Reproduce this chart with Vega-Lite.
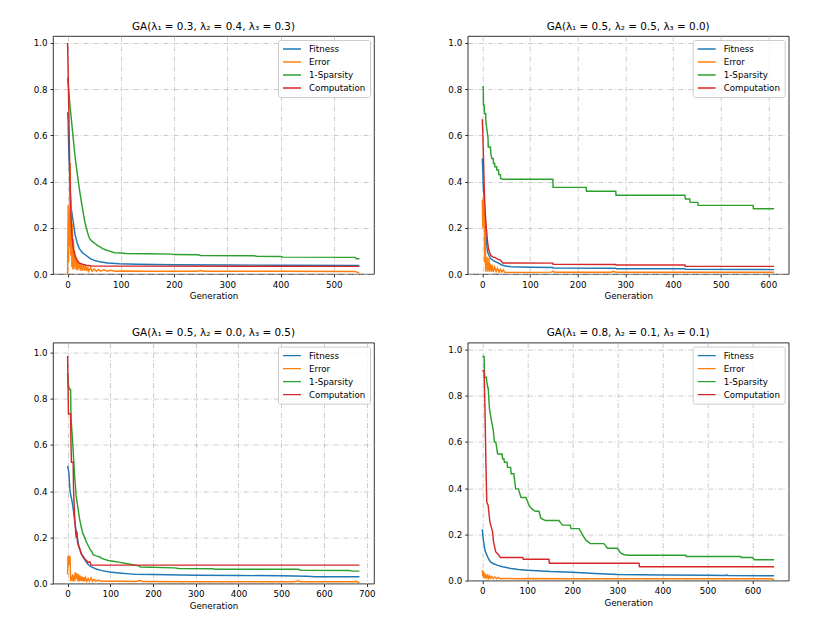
{
"$schema":"https://vega.github.io/schema/vega-lite/v6.json",
"padding":{"left":32,"top":21,"right":5,"bottom":5},
"config":{
"font":"DejaVu Sans",
"view":{"stroke":"#000","strokeWidth":0.8},
"axis":{"labelFontSize":8.7,"labelColor":"#000","tickColor":"#000","tickSize":3,"tickWidth":0.8,"labelPadding":3,"domain":false,"grid":true,"gridColor":"#b8b8b8","gridDash":[5,2,1,2],"gridWidth":0.7,"titleFontSize":8.7,"titleFontWeight":"normal","titleColor":"#000","titlePadding":3},
"title":{"fontSize":10.4,"fontWeight":"normal","offset":4,"color":"#000"},
"legend":{"orient":"top-right","offset":4,"labelFontSize":8.7,"labelColor":"#000","symbolType":"stroke","symbolSize":324,"symbolStrokeWidth":1.5,"labelOffset":7,"padding":4,"rowPadding":3.0,"clipHeight":10,"fillColor":"rgba(255,255,255,0.8)","strokeColor":"#cccccc","cornerRadius":2},
"line":{"strokeWidth":1.45}
},
"datasets":{
"tl":[
{"s":"Fitness","g":0,"v":0.70},{"s":"Fitness","g":1,"v":0.66},{"s":"Fitness","g":2,"v":0.55},{"s":"Fitness","g":4,"v":0.42},{"s":"Fitness","g":6,"v":0.31},{"s":"Fitness","g":7,"v":0.28},{"s":"Fitness","g":9,"v":0.25},{"s":"Fitness","g":11,"v":0.22},{"s":"Fitness","g":14,"v":0.17},{"s":"Fitness","g":18,"v":0.135},{"s":"Fitness","g":22,"v":0.11},{"s":"Fitness","g":28,"v":0.092},{"s":"Fitness","g":35,"v":0.08},{"s":"Fitness","g":42,"v":0.068},{"s":"Fitness","g":50,"v":0.059},{"s":"Fitness","g":60,"v":0.053},{"s":"Fitness","g":75,"v":0.048},{"s":"Fitness","g":97,"v":0.044},{"s":"Fitness","g":130,"v":0.042},{"s":"Fitness","g":200,"v":0.04},{"s":"Fitness","g":300,"v":0.039},{"s":"Fitness","g":400,"v":0.038},{"s":"Fitness","g":548,"v":0.037},
{"s":"Error","g":0,"v":0.0},{"s":"Error","g":1,"v":0.30},{"s":"Error","g":2,"v":0.05},{"s":"Error","g":3,"v":0.27},{"s":"Error","g":4,"v":0.12},{"s":"Error","g":5,"v":0.48},{"s":"Error","g":6,"v":0.08},{"s":"Error","g":7,"v":0.30},{"s":"Error","g":8,"v":0.03},{"s":"Error","g":9,"v":0.22},{"s":"Error","g":10,"v":0.02},{"s":"Error","g":11,"v":0.15},{"s":"Error","g":12,"v":0.02},{"s":"Error","g":13,"v":0.10},{"s":"Error","g":14,"v":0.03},{"s":"Error","g":15,"v":0.08},{"s":"Error","g":16,"v":0.02},{"s":"Error","g":17,"v":0.07},{"s":"Error","g":18,"v":0.015},{"s":"Error","g":19,"v":0.06},{"s":"Error","g":20,"v":0.02},{"s":"Error","g":22,"v":0.05},{"s":"Error","g":24,"v":0.015},{"s":"Error","g":26,"v":0.045},{"s":"Error","g":28,"v":0.015},{"s":"Error","g":30,"v":0.04},{"s":"Error","g":32,"v":0.015},{"s":"Error","g":34,"v":0.035},{"s":"Error","g":36,"v":0.012},{"s":"Error","g":38,"v":0.03},{"s":"Error","g":40,"v":0.012},{"s":"Error","g":43,"v":0.028},{"s":"Error","g":46,"v":0.012},{"s":"Error","g":50,"v":0.022},{"s":"Error","g":54,"v":0.012},{"s":"Error","g":58,"v":0.02},{"s":"Error","g":62,"v":0.012},{"s":"Error","g":68,"v":0.018},{"s":"Error","g":75,"v":0.012},{"s":"Error","g":80,"v":0.016},{"s":"Error","g":90,"v":0.012},{"s":"Error","g":100,"v":0.013},{"s":"Error","g":150,"v":0.012},{"s":"Error","g":245,"v":0.012},{"s":"Error","g":250,"v":0.015},{"s":"Error","g":255,"v":0.012},{"s":"Error","g":400,"v":0.012},{"s":"Error","g":540,"v":0.011},{"s":"Error","g":545,"v":0.006},{"s":"Error","g":548,"v":0.006},
{"s":"1-Sparsity","g":0,"v":0.85},{"s":"1-Sparsity","g":2,"v":0.80},{"s":"1-Sparsity","g":4,"v":0.74},{"s":"1-Sparsity","g":7,"v":0.67},{"s":"1-Sparsity","g":10,"v":0.60},{"s":"1-Sparsity","g":13,"v":0.53},{"s":"1-Sparsity","g":16,"v":0.47},{"s":"1-Sparsity","g":19,"v":0.42},{"s":"1-Sparsity","g":22,"v":0.37},{"s":"1-Sparsity","g":26,"v":0.31},{"s":"1-Sparsity","g":29,"v":0.27},{"s":"1-Sparsity","g":32,"v":0.23},{"s":"1-Sparsity","g":35,"v":0.2},{"s":"1-Sparsity","g":38,"v":0.175},{"s":"1-Sparsity","g":41,"v":0.155},{"s":"1-Sparsity","g":45,"v":0.143},{"s":"1-Sparsity","g":50,"v":0.135},{"s":"1-Sparsity","g":55,"v":0.125},{"s":"1-Sparsity","g":60,"v":0.118},{"s":"1-Sparsity","g":66,"v":0.11},{"s":"1-Sparsity","g":72,"v":0.104},{"s":"1-Sparsity","g":80,"v":0.098},{"s":"1-Sparsity","g":88,"v":0.092},{"s":"1-Sparsity","g":100,"v":0.091},{"s":"1-Sparsity","g":110,"v":0.089},{"s":"1-Sparsity","g":150,"v":0.088},{"s":"1-Sparsity","g":195,"v":0.086},{"s":"1-Sparsity","g":200,"v":0.084},{"s":"1-Sparsity","g":245,"v":0.083},{"s":"1-Sparsity","g":250,"v":0.080},{"s":"1-Sparsity","g":350,"v":0.079},{"s":"1-Sparsity","g":355,"v":0.077},{"s":"1-Sparsity","g":400,"v":0.076},{"s":"1-Sparsity","g":405,"v":0.073},{"s":"1-Sparsity","g":540,"v":0.072},{"s":"1-Sparsity","g":542,"v":0.066},{"s":"1-Sparsity","g":548,"v":0.066},
{"s":"Computation","g":0,"v":1.0},{"s":"Computation","g":1,"v":0.88},{"s":"Computation","g":2,"v":0.75},{"s":"Computation","g":3,"v":0.6},{"s":"Computation","g":4,"v":0.46},{"s":"Computation","g":5,"v":0.36},{"s":"Computation","g":6,"v":0.27},{"s":"Computation","g":7,"v":0.21},{"s":"Computation","g":8,"v":0.17},{"s":"Computation","g":10,"v":0.12},{"s":"Computation","g":12,"v":0.095},{"s":"Computation","g":14,"v":0.08},{"s":"Computation","g":16,"v":0.065},{"s":"Computation","g":19,"v":0.055},{"s":"Computation","g":22,"v":0.047},{"s":"Computation","g":28,"v":0.042},{"s":"Computation","g":35,"v":0.038},{"s":"Computation","g":45,"v":0.035},{"s":"Computation","g":100,"v":0.034},{"s":"Computation","g":548,"v":0.033}
],
"tr":[
{"s":"Fitness","g":0,"v":0.5},{"s":"Fitness","g":1,"v":0.45},{"s":"Fitness","g":2,"v":0.38},{"s":"Fitness","g":4,"v":0.31},{"s":"Fitness","g":6,"v":0.22},{"s":"Fitness","g":8,"v":0.155},{"s":"Fitness","g":11,"v":0.095},{"s":"Fitness","g":14,"v":0.08},{"s":"Fitness","g":18,"v":0.066},{"s":"Fitness","g":25,"v":0.056},{"s":"Fitness","g":32,"v":0.049},{"s":"Fitness","g":40,"v":0.04},{"s":"Fitness","g":46,"v":0.036},{"s":"Fitness","g":60,"v":0.031},{"s":"Fitness","g":100,"v":0.029},{"s":"Fitness","g":148,"v":0.028},{"s":"Fitness","g":149,"v":0.026},{"s":"Fitness","g":280,"v":0.025},{"s":"Fitness","g":281,"v":0.023},{"s":"Fitness","g":425,"v":0.023},{"s":"Fitness","g":426,"v":0.02},{"s":"Fitness","g":612,"v":0.019},
{"s":"Error","g":0,"v":0.32},{"s":"Error","g":1,"v":0.20},{"s":"Error","g":2,"v":0.33},{"s":"Error","g":3,"v":0.25},{"s":"Error","g":4,"v":0.35},{"s":"Error","g":5,"v":0.05},{"s":"Error","g":6,"v":0.20},{"s":"Error","g":7,"v":0.01},{"s":"Error","g":8,"v":0.07},{"s":"Error","g":9,"v":0.02},{"s":"Error","g":10,"v":0.075},{"s":"Error","g":11,"v":0.01},{"s":"Error","g":12,"v":0.05},{"s":"Error","g":13,"v":0.015},{"s":"Error","g":14,"v":0.07},{"s":"Error","g":15,"v":0.01},{"s":"Error","g":17,"v":0.045},{"s":"Error","g":19,"v":0.01},{"s":"Error","g":21,"v":0.04},{"s":"Error","g":23,"v":0.008},{"s":"Error","g":26,"v":0.03},{"s":"Error","g":29,"v":0.01},{"s":"Error","g":32,"v":0.025},{"s":"Error","g":35,"v":0.008},{"s":"Error","g":38,"v":0.02},{"s":"Error","g":41,"v":0.008},{"s":"Error","g":44,"v":0.018},{"s":"Error","g":47,"v":0.007},{"s":"Error","g":100,"v":0.007},{"s":"Error","g":145,"v":0.008},{"s":"Error","g":148,"v":0.012},{"s":"Error","g":152,"v":0.008},{"s":"Error","g":270,"v":0.008},{"s":"Error","g":275,"v":0.012},{"s":"Error","g":280,"v":0.008},{"s":"Error","g":612,"v":0.008},
{"s":"1-Sparsity","g":0,"v":0.81},{"s":"1-Sparsity","g":2,"v":0.81},{"s":"1-Sparsity","g":2.5,"v":0.73},{"s":"1-Sparsity","g":4,"v":0.73},{"s":"1-Sparsity","g":4.5,"v":0.695},{"s":"1-Sparsity","g":7,"v":0.695},{"s":"1-Sparsity","g":7.5,"v":0.66},{"s":"1-Sparsity","g":10,"v":0.62},{"s":"1-Sparsity","g":12,"v":0.59},{"s":"1-Sparsity","g":12.5,"v":0.55},{"s":"1-Sparsity","g":17,"v":0.55},{"s":"1-Sparsity","g":18,"v":0.52},{"s":"1-Sparsity","g":20,"v":0.5},{"s":"1-Sparsity","g":23,"v":0.5},{"s":"1-Sparsity","g":23.5,"v":0.478},{"s":"1-Sparsity","g":26,"v":0.478},{"s":"1-Sparsity","g":26.5,"v":0.464},{"s":"1-Sparsity","g":30,"v":0.464},{"s":"1-Sparsity","g":30.5,"v":0.45},{"s":"1-Sparsity","g":34,"v":0.45},{"s":"1-Sparsity","g":34.5,"v":0.43},{"s":"1-Sparsity","g":38,"v":0.43},{"s":"1-Sparsity","g":38.5,"v":0.413},{"s":"1-Sparsity","g":43,"v":0.41},{"s":"1-Sparsity","g":148,"v":0.41},{"s":"1-Sparsity","g":148.5,"v":0.375},{"s":"1-Sparsity","g":218,"v":0.375},{"s":"1-Sparsity","g":218.5,"v":0.358},{"s":"1-Sparsity","g":280,"v":0.358},{"s":"1-Sparsity","g":280.5,"v":0.341},{"s":"1-Sparsity","g":425,"v":0.341},{"s":"1-Sparsity","g":426,"v":0.325},{"s":"1-Sparsity","g":435,"v":0.325},{"s":"1-Sparsity","g":436,"v":0.31},{"s":"1-Sparsity","g":452,"v":0.31},{"s":"1-Sparsity","g":452.5,"v":0.297},{"s":"1-Sparsity","g":568,"v":0.297},{"s":"1-Sparsity","g":568.5,"v":0.282},{"s":"1-Sparsity","g":612,"v":0.282},
{"s":"Computation","g":0,"v":0.67},{"s":"Computation","g":1,"v":0.62},{"s":"Computation","g":3,"v":0.46},{"s":"Computation","g":4,"v":0.38},{"s":"Computation","g":5,"v":0.32},{"s":"Computation","g":6,"v":0.27},{"s":"Computation","g":8,"v":0.21},{"s":"Computation","g":11,"v":0.14},{"s":"Computation","g":13,"v":0.11},{"s":"Computation","g":15,"v":0.095},{"s":"Computation","g":18,"v":0.08},{"s":"Computation","g":22,"v":0.074},{"s":"Computation","g":28,"v":0.07},{"s":"Computation","g":32,"v":0.064},{"s":"Computation","g":38,"v":0.06},{"s":"Computation","g":43,"v":0.048},{"s":"Computation","g":148,"v":0.047},{"s":"Computation","g":148.5,"v":0.042},{"s":"Computation","g":280,"v":0.041},{"s":"Computation","g":280.5,"v":0.039},{"s":"Computation","g":425,"v":0.039},{"s":"Computation","g":425.5,"v":0.033},{"s":"Computation","g":612,"v":0.033}
],
"bl":[
{"s":"Fitness","g":0,"v":0.51},{"s":"Fitness","g":3,"v":0.48},{"s":"Fitness","g":5,"v":0.42},{"s":"Fitness","g":6,"v":0.395},{"s":"Fitness","g":9,"v":0.37},{"s":"Fitness","g":11,"v":0.35},{"s":"Fitness","g":14,"v":0.31},{"s":"Fitness","g":16,"v":0.28},{"s":"Fitness","g":19,"v":0.24},{"s":"Fitness","g":22,"v":0.208},{"s":"Fitness","g":25,"v":0.175},{"s":"Fitness","g":28,"v":0.15},{"s":"Fitness","g":32,"v":0.13},{"s":"Fitness","g":36,"v":0.114},{"s":"Fitness","g":42,"v":0.098},{"s":"Fitness","g":47,"v":0.085},{"s":"Fitness","g":55,"v":0.073},{"s":"Fitness","g":67,"v":0.063},{"s":"Fitness","g":80,"v":0.056},{"s":"Fitness","g":98,"v":0.05},{"s":"Fitness","g":120,"v":0.046},{"s":"Fitness","g":160,"v":0.04},{"s":"Fitness","g":200,"v":0.039},{"s":"Fitness","g":300,"v":0.036},{"s":"Fitness","g":400,"v":0.035},{"s":"Fitness","g":500,"v":0.034},{"s":"Fitness","g":560,"v":0.032},{"s":"Fitness","g":580,"v":0.03},{"s":"Fitness","g":683,"v":0.03},
{"s":"Error","g":0,"v":0.04},{"s":"Error","g":1,"v":0.12},{"s":"Error","g":2,"v":0.1},{"s":"Error","g":3,"v":0.12},{"s":"Error","g":4,"v":0.08},{"s":"Error","g":5,"v":0.12},{"s":"Error","g":6,"v":0.11},{"s":"Error","g":7,"v":0.01},{"s":"Error","g":8,"v":0.03},{"s":"Error","g":10,"v":0.02},{"s":"Error","g":12,"v":0.04},{"s":"Error","g":13,"v":0.01},{"s":"Error","g":15,"v":0.035},{"s":"Error","g":17,"v":0.01},{"s":"Error","g":18,"v":0.05},{"s":"Error","g":20,"v":0.02},{"s":"Error","g":22,"v":0.045},{"s":"Error","g":24,"v":0.01},{"s":"Error","g":26,"v":0.04},{"s":"Error","g":28,"v":0.01},{"s":"Error","g":30,"v":0.035},{"s":"Error","g":32,"v":0.012},{"s":"Error","g":34,"v":0.03},{"s":"Error","g":36,"v":0.01},{"s":"Error","g":38,"v":0.028},{"s":"Error","g":40,"v":0.01},{"s":"Error","g":42,"v":0.025},{"s":"Error","g":45,"v":0.01},{"s":"Error","g":48,"v":0.022},{"s":"Error","g":51,"v":0.01},{"s":"Error","g":55,"v":0.025},{"s":"Error","g":58,"v":0.01},{"s":"Error","g":62,"v":0.018},{"s":"Error","g":66,"v":0.01},{"s":"Error","g":70,"v":0.015},{"s":"Error","g":80,"v":0.01},{"s":"Error","g":120,"v":0.01},{"s":"Error","g":160,"v":0.009},{"s":"Error","g":170,"v":0.014},{"s":"Error","g":175,"v":0.009},{"s":"Error","g":300,"v":0.008},{"s":"Error","g":530,"v":0.008},{"s":"Error","g":540,"v":0.012},{"s":"Error","g":545,"v":0.008},{"s":"Error","g":670,"v":0.008},{"s":"Error","g":675,"v":0.01},{"s":"Error","g":680,"v":0.006},{"s":"Error","g":683,"v":0.006},
{"s":"1-Sparsity","g":0,"v":0.91},{"s":"1-Sparsity","g":2,"v":0.857},{"s":"1-Sparsity","g":5,"v":0.84},{"s":"1-Sparsity","g":7,"v":0.84},{"s":"1-Sparsity","g":8,"v":0.72},{"s":"1-Sparsity","g":10,"v":0.66},{"s":"1-Sparsity","g":12,"v":0.61},{"s":"1-Sparsity","g":14,"v":0.54},{"s":"1-Sparsity","g":16,"v":0.48},{"s":"1-Sparsity","g":18,"v":0.43},{"s":"1-Sparsity","g":20,"v":0.38},{"s":"1-Sparsity","g":24,"v":0.33},{"s":"1-Sparsity","g":28,"v":0.28},{"s":"1-Sparsity","g":32,"v":0.245},{"s":"1-Sparsity","g":36,"v":0.215},{"s":"1-Sparsity","g":40,"v":0.2},{"s":"1-Sparsity","g":44,"v":0.18},{"s":"1-Sparsity","g":48,"v":0.165},{"s":"1-Sparsity","g":52,"v":0.15},{"s":"1-Sparsity","g":56,"v":0.14},{"s":"1-Sparsity","g":60,"v":0.125},{"s":"1-Sparsity","g":67,"v":0.12},{"s":"1-Sparsity","g":75,"v":0.115},{"s":"1-Sparsity","g":83,"v":0.107},{"s":"1-Sparsity","g":95,"v":0.1},{"s":"1-Sparsity","g":106,"v":0.097},{"s":"1-Sparsity","g":120,"v":0.093},{"s":"1-Sparsity","g":137,"v":0.087},{"s":"1-Sparsity","g":150,"v":0.083},{"s":"1-Sparsity","g":168,"v":0.076},{"s":"1-Sparsity","g":170,"v":0.072},{"s":"1-Sparsity","g":250,"v":0.068},{"s":"1-Sparsity","g":260,"v":0.065},{"s":"1-Sparsity","g":340,"v":0.064},{"s":"1-Sparsity","g":345,"v":0.062},{"s":"1-Sparsity","g":540,"v":0.062},{"s":"1-Sparsity","g":545,"v":0.058},{"s":"1-Sparsity","g":660,"v":0.057},{"s":"1-Sparsity","g":665,"v":0.054},{"s":"1-Sparsity","g":683,"v":0.054},
{"s":"Computation","g":0,"v":0.985},{"s":"Computation","g":2,"v":0.735},{"s":"Computation","g":7,"v":0.735},{"s":"Computation","g":8,"v":0.6},{"s":"Computation","g":9,"v":0.525},{"s":"Computation","g":13,"v":0.525},{"s":"Computation","g":14,"v":0.4},{"s":"Computation","g":17,"v":0.27},{"s":"Computation","g":20,"v":0.2},{"s":"Computation","g":22,"v":0.225},{"s":"Computation","g":23,"v":0.18},{"s":"Computation","g":26,"v":0.16},{"s":"Computation","g":29,"v":0.15},{"s":"Computation","g":32,"v":0.128},{"s":"Computation","g":36,"v":0.12},{"s":"Computation","g":40,"v":0.107},{"s":"Computation","g":44,"v":0.1},{"s":"Computation","g":48,"v":0.092},{"s":"Computation","g":52,"v":0.095},{"s":"Computation","g":55,"v":0.08},{"s":"Computation","g":683,"v":0.08}
],
"br":[
{"s":"Fitness","g":0,"v":0.222},{"s":"Fitness","g":2,"v":0.18},{"s":"Fitness","g":4,"v":0.155},{"s":"Fitness","g":6,"v":0.13},{"s":"Fitness","g":9,"v":0.115},{"s":"Fitness","g":12,"v":0.102},{"s":"Fitness","g":15,"v":0.09},{"s":"Fitness","g":19,"v":0.08},{"s":"Fitness","g":25,"v":0.073},{"s":"Fitness","g":34,"v":0.066},{"s":"Fitness","g":45,"v":0.06},{"s":"Fitness","g":64,"v":0.052},{"s":"Fitness","g":80,"v":0.048},{"s":"Fitness","g":100,"v":0.045},{"s":"Fitness","g":152,"v":0.039},{"s":"Fitness","g":200,"v":0.036},{"s":"Fitness","g":250,"v":0.031},{"s":"Fitness","g":300,"v":0.026},{"s":"Fitness","g":400,"v":0.024},{"s":"Fitness","g":500,"v":0.023},{"s":"Fitness","g":540,"v":0.022},{"s":"Fitness","g":542,"v":0.025},{"s":"Fitness","g":545,"v":0.022},{"s":"Fitness","g":648,"v":0.021},
{"s":"Error","g":0,"v":0.045},{"s":"Error","g":1,"v":0.02},{"s":"Error","g":2,"v":0.04},{"s":"Error","g":3,"v":0.01},{"s":"Error","g":4,"v":0.035},{"s":"Error","g":5,"v":0.012},{"s":"Error","g":6,"v":0.03},{"s":"Error","g":7,"v":0.01},{"s":"Error","g":8,"v":0.025},{"s":"Error","g":10,"v":0.012},{"s":"Error","g":12,"v":0.022},{"s":"Error","g":14,"v":0.01},{"s":"Error","g":16,"v":0.02},{"s":"Error","g":18,"v":0.01},{"s":"Error","g":21,"v":0.018},{"s":"Error","g":24,"v":0.009},{"s":"Error","g":28,"v":0.016},{"s":"Error","g":32,"v":0.008},{"s":"Error","g":36,"v":0.014},{"s":"Error","g":40,"v":0.008},{"s":"Error","g":50,"v":0.009},{"s":"Error","g":80,"v":0.008},{"s":"Error","g":100,"v":0.009},{"s":"Error","g":200,"v":0.008},{"s":"Error","g":400,"v":0.008},{"s":"Error","g":640,"v":0.008},{"s":"Error","g":648,"v":0.005},
{"s":"1-Sparsity","g":0,"v":0.97},{"s":"1-Sparsity","g":4,"v":0.97},{"s":"1-Sparsity","g":5,"v":0.88},{"s":"1-Sparsity","g":9,"v":0.88},{"s":"1-Sparsity","g":10,"v":0.86},{"s":"1-Sparsity","g":12,"v":0.836},{"s":"1-Sparsity","g":13,"v":0.836},{"s":"1-Sparsity","g":16,"v":0.742},{"s":"1-Sparsity","g":21,"v":0.685},{"s":"1-Sparsity","g":24,"v":0.656},{"s":"1-Sparsity","g":27,"v":0.6},{"s":"1-Sparsity","g":30,"v":0.6},{"s":"1-Sparsity","g":34,"v":0.548},{"s":"1-Sparsity","g":44,"v":0.548},{"s":"1-Sparsity","g":45,"v":0.527},{"s":"1-Sparsity","g":48,"v":0.527},{"s":"1-Sparsity","g":49,"v":0.512},{"s":"1-Sparsity","g":55,"v":0.512},{"s":"1-Sparsity","g":56,"v":0.49},{"s":"1-Sparsity","g":63,"v":0.49},{"s":"1-Sparsity","g":64,"v":0.462},{"s":"1-Sparsity","g":70,"v":0.462},{"s":"1-Sparsity","g":74,"v":0.397},{"s":"1-Sparsity","g":80,"v":0.397},{"s":"1-Sparsity","g":86,"v":0.36},{"s":"1-Sparsity","g":97,"v":0.36},{"s":"1-Sparsity","g":104,"v":0.325},{"s":"1-Sparsity","g":110,"v":0.31},{"s":"1-Sparsity","g":118,"v":0.3},{"s":"1-Sparsity","g":126,"v":0.3},{"s":"1-Sparsity","g":130,"v":0.27},{"s":"1-Sparsity","g":140,"v":0.26},{"s":"1-Sparsity","g":170,"v":0.26},{"s":"1-Sparsity","g":178,"v":0.24},{"s":"1-Sparsity","g":195,"v":0.24},{"s":"1-Sparsity","g":197,"v":0.225},{"s":"1-Sparsity","g":215,"v":0.225},{"s":"1-Sparsity","g":225,"v":0.19},{"s":"1-Sparsity","g":230,"v":0.175},{"s":"1-Sparsity","g":240,"v":0.16},{"s":"1-Sparsity","g":270,"v":0.16},{"s":"1-Sparsity","g":278,"v":0.14},{"s":"1-Sparsity","g":300,"v":0.14},{"s":"1-Sparsity","g":307,"v":0.12},{"s":"1-Sparsity","g":315,"v":0.112},{"s":"1-Sparsity","g":326,"v":0.11},{"s":"1-Sparsity","g":452,"v":0.11},{"s":"1-Sparsity","g":453,"v":0.104},{"s":"1-Sparsity","g":574,"v":0.104},{"s":"1-Sparsity","g":575,"v":0.1},{"s":"1-Sparsity","g":600,"v":0.1},{"s":"1-Sparsity","g":605,"v":0.09},{"s":"1-Sparsity","g":648,"v":0.09},
{"s":"Computation","g":0,"v":0.908},{"s":"Computation","g":4,"v":0.908},{"s":"Computation","g":6,"v":0.742},{"s":"Computation","g":8,"v":0.512},{"s":"Computation","g":10,"v":0.34},{"s":"Computation","g":12,"v":0.33},{"s":"Computation","g":13,"v":0.325},{"s":"Computation","g":16,"v":0.27},{"s":"Computation","g":17,"v":0.253},{"s":"Computation","g":21,"v":0.224},{"s":"Computation","g":23,"v":0.21},{"s":"Computation","g":25,"v":0.167},{"s":"Computation","g":28,"v":0.14},{"s":"Computation","g":30,"v":0.124},{"s":"Computation","g":36,"v":0.112},{"s":"Computation","g":40,"v":0.1},{"s":"Computation","g":90,"v":0.1},{"s":"Computation","g":91,"v":0.092},{"s":"Computation","g":148,"v":0.092},{"s":"Computation","g":149,"v":0.075},{"s":"Computation","g":348,"v":0.075},{"s":"Computation","g":349,"v":0.06},{"s":"Computation","g":648,"v":0.06}
]
},
"columns":2,
"bounds":"flush",
"spacing":{"row":68.6,"column":93.7},
"resolve":{"scale":{"color":"independent","x":"independent","y":"independent"},"legend":{"color":"independent"}},
"concat":[
{"width":321,"height":238,"title":"GA(λ₁ = 0.3, λ₂ = 0.4, λ₃ = 0.3)","data":{"name":"tl"},"mark":{"type":"line","clip":true},
"encoding":{"x":{"field":"g","type":"quantitative","scale":{"domain":[-27.4,575.4],"nice":false,"zero":false},"axis":{"values":[0,100,200,300,400,500],"title":"Generation"}},
"y":{"field":"v","type":"quantitative","scale":{"domain":[0,1.03],"nice":false,"zero":false},"axis":{"values":[0,0.2,0.4,0.6,0.8,1.0],"format":".1f","title":null}},
"color":{"field":"s","type":"nominal","scale":{"domain":["Fitness","Error","1-Sparsity","Computation"],"range":["#1f77b4","#ff7f0e","#2ca02c","#d62728"]},"legend":{"title":null}}}},
{"width":321,"height":238,"title":"GA(λ₁ = 0.5, λ₂ = 0.5, λ₃ = 0.0)","data":{"name":"tr"},"mark":{"type":"line","clip":true},
"encoding":{"x":{"field":"g","type":"quantitative","scale":{"domain":[-30.6,642.6],"nice":false,"zero":false},"axis":{"values":[0,100,200,300,400,500,600],"title":"Generation"}},
"y":{"field":"v","type":"quantitative","scale":{"domain":[0,1.03],"nice":false,"zero":false},"axis":{"values":[0,0.2,0.4,0.6,0.8,1.0],"format":".1f","title":null}},
"color":{"field":"s","type":"nominal","scale":{"domain":["Fitness","Error","1-Sparsity","Computation"],"range":["#1f77b4","#ff7f0e","#2ca02c","#d62728"]},"legend":{"title":null}}}},
{"width":321,"height":241,"title":"GA(λ₁ = 0.5, λ₂ = 0.0, λ₃ = 0.5)","data":{"name":"bl"},"mark":{"type":"line","clip":true},
"encoding":{"x":{"field":"g","type":"quantitative","scale":{"domain":[-34.15,717.15],"nice":false,"zero":false},"axis":{"values":[0,100,200,300,400,500,600,700],"title":"Generation"}},
"y":{"field":"v","type":"quantitative","scale":{"domain":[0,1.043],"nice":false,"zero":false},"axis":{"values":[0,0.2,0.4,0.6,0.8,1.0],"format":".1f","title":null}},
"color":{"field":"s","type":"nominal","scale":{"domain":["Fitness","Error","1-Sparsity","Computation"],"range":["#1f77b4","#ff7f0e","#2ca02c","#d62728"]},"legend":{"title":null}}}},
{"width":321,"height":238,"title":"GA(λ₁ = 0.8, λ₂ = 0.1, λ₃ = 0.1)","data":{"name":"br"},"mark":{"type":"line","clip":true},
"encoding":{"x":{"field":"g","type":"quantitative","scale":{"domain":[-32.4,680.4],"nice":false,"zero":false},"axis":{"values":[0,100,200,300,400,500,600],"title":"Generation"}},
"y":{"field":"v","type":"quantitative","scale":{"domain":[0,1.03],"nice":false,"zero":false},"axis":{"values":[0,0.2,0.4,0.6,0.8,1.0],"format":".1f","title":null}},
"color":{"field":"s","type":"nominal","scale":{"domain":["Fitness","Error","1-Sparsity","Computation"],"range":["#1f77b4","#ff7f0e","#2ca02c","#d62728"]},"legend":{"title":null}}}}
]
}
